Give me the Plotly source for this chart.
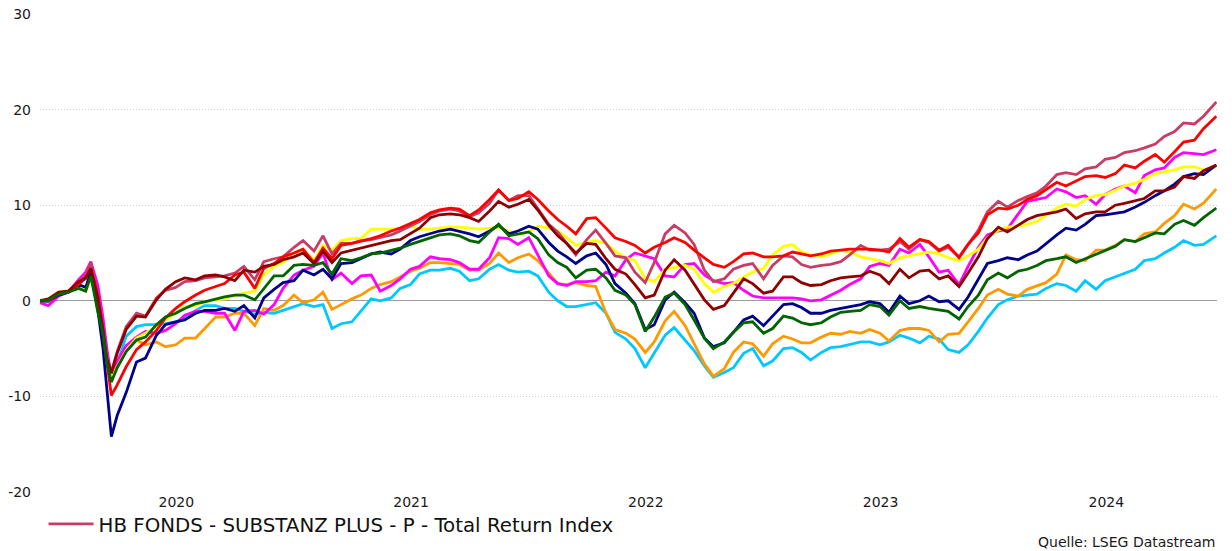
import pandas as pd
import plotly.graph_objects as go

# ---- dates (irregular around the 2020 crash, then semi-monthly) ----
dates_early = ["2019-12-03", "2019-12-16", "2020-01-01", "2020-01-16", "2020-02-01",
               "2020-02-12", "2020-02-20", "2020-03-02", "2020-03-10", "2020-03-16",
               "2020-03-23", "2020-04-01", "2020-04-15"]
dates_regular = pd.date_range("2020-05-01", "2024-11-15", freq="SMS").strftime("%Y-%m-%d").tolist()
dates = dates_early + dates_regular + ["2024-12-05"]

# ---- series values (% change) ----
hb_fonds = [0.0, 0.1, 0.8, 1.0, 2.0, 2.6, 4.0, 0.7, -3.0, -6.0, -7.4, -5.3, -2.7,
            -1.3, -1.6, 0.3, 1.1, 1.4, 2.0, 2.1, 2.4, 2.5, 2.6, 2.9, 3.6, 2.2, 4.1, 4.4, 4.6,
            5.6, 6.3, 5.2, 6.8, 4.9, 6.0, 6.0, 6.3, 6.4, 6.6, 6.9, 7.3, 7.8, 8.3, 9.0, 9.4, 9.6, 9.4, 8.8, 9.2, 10.2, 11.6, 10.5, 11.0,
            11.0, 9.6, 8.0, 7.2, 6.0, 4.8, 6.4, 7.4, 6.0, 4.7, 4.5, 3.0, 1.9, 4.0, 7.0, 7.9, 7.1, 5.9, 3.2, 2.0, 2.3, 3.3, 3.7, 3.9,
            2.3, 3.7, 4.7, 4.6, 3.8, 3.5, 3.7, 3.8, 4.1, 4.8, 5.8, 5.3, 5.3, 5.4, 6.2, 5.4, 6.4, 6.1, 5.2, 5.6, 4.6, 5.9, 7.4, 9.3,
            10.4, 9.8, 10.5, 10.9, 11.3, 12.0, 13.2, 13.4, 13.2, 13.8, 14.0, 14.8, 15.0, 15.5, 15.7, 16.0, 16.4, 17.2, 17.7, 18.6, 18.5, 19.3, 20.8]

red = [0.0, 0.0, 0.7, 0.9, 1.7, 2.4, 3.4, 0.5, -3.5, -6.5, -9.9, -8.8, -6.9,
       -5.1, -4.3, -3.1, -1.8, -0.8, -0.1, 0.6, 1.1, 1.5, 1.8, 2.7, 3.0, 1.3, 3.4, 3.9, 4.6,
       5.0, 5.4, 4.0, 5.5, 4.4, 5.8, 6.0, 6.2, 6.5, 6.8, 7.3, 7.6, 8.1, 8.5, 9.2, 9.5, 9.7, 9.6, 8.9, 9.5, 10.6, 11.6, 10.5, 10.7,
       11.4, 10.6, 9.4, 8.5, 7.8, 7.0, 8.6, 8.7, 7.6, 6.6, 6.2, 5.8, 5.0, 5.6, 6.1, 6.6, 6.1, 5.3, 4.5, 3.8, 3.5, 4.1, 4.9, 5.0,
       4.6, 4.6, 4.7, 5.1, 4.9, 4.7, 4.9, 5.2, 5.3, 5.4, 5.4, 5.4, 5.3, 5.1, 6.5, 5.6, 6.4, 6.2, 5.3, 5.8, 4.5, 5.9, 7.1, 9.0,
       9.7, 9.6, 10.0, 10.6, 11.0, 11.6, 12.4, 12.0, 12.5, 13.0, 13.1, 12.9, 13.3, 14.2, 13.9, 14.6, 15.3, 14.5, 15.6, 16.6, 16.8, 18.0, 19.3]

yellow = [0.0, 0.2, 0.9, 1.1, 1.7, 1.0, 2.3, -0.2, -3.2, -6.0, -8.0, -6.9, -5.2,
          -3.9, -3.4, -2.7, -2.0, -1.3, -0.6, -0.5, -0.1, 0.1, 0.2, 0.6, 0.8, 1.0, 2.7, 3.6, 4.0,
          5.0, 5.4, 4.2, 5.8, 5.3, 6.3, 6.5, 6.5, 7.5, 7.5, 7.5, 7.6, 7.8, 7.5, 7.5, 7.6, 7.7, 7.7, 7.6, 7.5, 7.6, 7.7, 7.3, 6.9,
          7.2, 7.8, 7.6, 7.3, 6.6, 5.8, 6.1, 6.3, 6.0, 5.2, 4.5, 4.2, 2.3, 2.0, 3.3, 3.5, 3.7, 3.3, 1.8, 0.9, 1.5, 1.8, 2.5, 3.0,
          3.4, 4.8, 5.7, 5.9, 5.1, 4.8, 4.6, 4.9, 5.3, 5.1, 4.6, 4.4, 4.2, 3.9, 4.5, 4.7, 4.9, 5.1, 4.9, 4.5, 4.2, 4.7, 5.4, 6.6,
          7.4, 7.7, 7.8, 8.0, 8.3, 8.9, 9.7, 10.1, 9.9, 10.6, 11.0, 11.1, 11.6, 12.0, 12.3, 12.7, 13.3, 13.5, 13.7, 14.0, 14.0, 13.7, 14.0]

dark_red = [0.0, 0.2, 0.9, 1.0, 2.0, 2.4, 3.4, 0.3, -3.0, -6.0, -7.6, -5.5, -3.0,
            -1.6, -1.7, 0.1, 1.2, 2.0, 2.4, 2.2, 2.6, 2.7, 2.5, 2.1, 3.2, 3.0, 3.6, 3.8, 4.3,
            4.6, 5.0, 3.9, 5.2, 4.0, 5.0, 5.3, 5.5, 5.8, 6.0, 6.3, 6.4, 7.0, 7.6, 8.7, 9.0, 9.1, 9.0, 8.7, 8.3, 9.4, 10.4, 9.8, 10.1,
            10.6, 9.5, 7.9, 6.8, 6.0, 5.0, 6.0, 5.9, 4.4, 3.3, 2.8, 1.7, 0.3, 0.6, 3.2, 4.3, 3.2, 1.7, 0.1, -0.9, -0.5, 0.8, 2.3, 1.8,
            0.8, 1.0, 2.5, 2.5, 1.9, 1.6, 1.7, 2.1, 2.4, 2.5, 2.6, 3.1, 2.7, 1.8, 3.3, 2.4, 3.1, 3.2, 2.3, 2.6, 1.5, 2.9, 4.6, 6.5,
            7.7, 7.2, 7.9, 8.5, 8.9, 9.1, 9.3, 9.6, 8.6, 9.1, 9.3, 9.3, 10.0, 10.2, 10.5, 10.7, 11.5, 11.5, 11.9, 13.0, 12.8, 13.6, 14.2]

magenta = [-0.2, -0.5, 0.5, 0.9, 2.2, 3.0, 4.1, 1.6, -1.8, -5.0, -8.0, -6.3, -4.7,
           -3.8, -3.2, -3.4, -3.1, -2.4, -1.5, -1.1, -1.1, -1.3, -1.3, -3.1, -1.1, -1.0, -1.4, -0.4, 1.3,
           2.7, 3.2, 3.6, 5.0, 2.2, 2.9, 1.8, 2.6, 2.7, 1.0, 1.6, 2.3, 3.3, 3.6, 4.6, 4.4, 4.3, 4.0, 3.3, 3.3, 4.5, 6.6, 6.5, 5.9,
           6.6, 4.8, 2.6, 1.8, 1.6, 2.0, 2.0, 2.1, 3.0, 2.6, 4.3, 5.0, 4.7, 4.4, 2.6, 2.5, 3.8, 3.9, 2.7, 2.1, 1.8, 1.9, 1.1, 0.5,
           0.3, 0.3, 0.3, 0.3, 0.2, 0.0, 0.1, 0.6, 1.1, 1.7, 2.3, 3.6, 3.9, 3.7, 5.4, 5.0, 5.9, 4.6, 3.0, 3.2, 1.7, 3.6, 5.6, 6.9,
           7.3, 7.5, 9.1, 10.4, 10.6, 10.8, 11.7, 11.4, 10.8, 11.0, 10.1, 11.1, 11.7, 12.0, 11.3, 13.1, 13.7, 13.9, 15.0, 15.5, 15.4, 15.3, 15.8]

navy = [0.0, 0.0, 0.6, 0.9, 1.7, 1.4, 3.0, -1.0, -5.0, -9.5, -14.2, -12.0, -9.6,
        -6.4, -6.0, -3.6, -2.5, -2.2, -2.0, -1.3, -1.0, -1.0, -0.8, -1.1, -0.5, -1.8, 0.3, 1.2, 1.9,
        2.1, 3.2, 2.7, 3.3, 2.3, 3.9, 4.0, 4.4, 4.9, 5.1, 4.9, 5.4, 6.3, 6.7, 7.0, 7.3, 7.5, 7.3, 7.0, 6.7, 7.3, 7.9, 7.0, 7.3,
        7.8, 7.5, 6.1, 5.2, 4.6, 3.9, 4.7, 5.0, 3.8, 1.8, 0.8, -0.3, -3.0, -2.5, 0.1, 0.9, -0.2, -1.3, -3.9, -4.8, -4.4, -3.3, -2.0, -1.6,
        -2.6, -1.6, -0.4, -0.3, -0.7, -1.3, -1.3, -1.0, -0.8, -0.6, -0.4, -0.1, -0.3, -1.2, 0.5, -0.3, 0.0, 0.5, -0.1, 0.0, -0.9, 0.4, 2.2, 3.9,
        4.2, 4.5, 4.3, 4.8, 5.2, 6.0, 6.9, 7.6, 7.4, 8.0, 8.9, 9.0, 9.2, 9.3, 9.8, 10.3, 11.0, 11.5, 12.2, 13.0, 13.3, 13.2, 14.2]

green = [0.0, 0.1, 0.7, 0.9, 1.3, 1.0, 2.6, -1.2, -3.5, -6.5, -8.5, -7.0, -5.3,
         -4.1, -3.8, -2.5, -1.7, -1.3, -0.8, -0.3, -0.1, 0.2, 0.4, 0.6, 0.6, 0.1, 1.3, 2.6, 2.6,
         3.7, 3.8, 3.7, 4.0, 2.8, 4.4, 4.2, 4.5, 4.9, 5.0, 5.3, 5.5, 5.9, 6.2, 6.6, 6.9, 7.0, 6.8, 6.3, 6.1, 7.2, 8.0, 6.8, 7.0,
         7.2, 6.5, 4.8, 4.0, 3.5, 2.4, 3.2, 3.3, 2.4, 1.1, 0.6, -0.4, -3.2, -1.7, 0.4, 0.8, -0.4, -2.0, -3.9, -5.0, -4.3, -3.3, -2.3, -2.2,
         -3.4, -2.9, -1.6, -1.8, -2.3, -2.5, -2.3, -1.7, -1.2, -1.1, -1.0, -0.4, -0.6, -1.5, 0.0, -0.8, -0.6, -0.8, -1.0, -1.1, -1.9, -0.6, 0.6, 2.2,
         2.9, 2.4, 3.1, 3.3, 3.7, 4.2, 4.4, 4.6, 4.0, 4.4, 4.8, 5.2, 5.7, 6.4, 6.2, 6.6, 7.1, 7.0, 8.0, 8.4, 7.9, 8.7, 9.7]

orange = [0.0, 0.1, 0.8, 1.0, 1.8, 2.6, 3.7, 0.9, -2.5, -5.5, -8.0, -6.9, -5.2,
          -4.1, -4.6, -4.3, -4.8, -4.6, -3.9, -3.9, -2.9, -1.7, -1.7, -1.3, -1.3, -2.6, -0.8, -1.0, -0.5,
          0.6, -0.2, 0.1, 0.9, -0.9, -0.4, 0.2, 0.6, 1.3, 1.7, 2.0, 2.5, 3.1, 3.4, 4.0, 4.0, 3.9, 3.8, 3.2, 3.2, 3.9, 5.0, 4.0, 4.5,
          4.9, 4.2, 2.9, 1.8, 1.7, 1.9, 1.6, 1.5, -1.3, -3.0, -3.4, -4.0, -5.4, -4.3, -2.1, -1.1, -2.6, -4.5, -6.6, -7.9, -7.1, -5.4, -4.3, -4.5,
          -5.8, -4.5, -3.7, -4.0, -4.4, -4.4, -3.8, -3.4, -3.5, -3.2, -3.4, -3.0, -3.4, -4.2, -3.1, -2.9, -2.9, -3.1, -4.3, -3.5, -3.4, -2.2, -0.8, 0.6,
          1.2, 0.7, 0.5, 1.2, 1.6, 1.9, 2.8, 4.8, 4.3, 4.2, 5.3, 5.3, 5.8, 6.4, 6.2, 7.0, 7.2, 8.1, 8.9, 10.1, 9.6, 10.2, 11.7]

cyan = [-0.1, -0.1, 0.6, 1.0, 1.8, 2.3, 3.2, 0.2, -3.0, -6.0, -8.0, -6.6, -3.7,
        -2.7, -2.5, -2.5, -2.4, -2.2, -1.8, -1.0, -0.5, -0.5, -0.8, -0.8, -1.1, -1.4, -1.2, -1.3, -1.0,
        -0.6, -0.3, -0.6, -0.4, -2.9, -2.4, -2.2, -1.1, 0.2, 0.0, 0.3, 1.3, 1.7, 2.8, 3.2, 3.2, 3.4, 3.1, 2.1, 2.3, 3.3, 3.8, 3.2, 3.0,
        3.1, 2.6, 0.9, 0.0, -0.6, -0.6, -0.4, -0.2, -1.3, -3.3, -4.0, -5.0, -7.0, -5.5, -3.6, -2.8, -4.1, -5.2, -6.8, -8.0, -7.5, -7.0, -5.5, -5.0,
        -6.8, -6.3, -5.0, -4.9, -5.4, -6.2, -5.4, -4.9, -4.8, -4.6, -4.3, -4.3, -4.6, -4.3, -3.6, -3.9, -4.4, -3.7, -4.0, -5.1, -5.4, -4.6, -3.2, -1.8,
        -0.4, 0.1, 0.5, 0.6, 0.7, 1.3, 1.8, 1.6, 1.0, 2.1, 1.2, 2.1, 2.5, 2.8, 3.3, 4.2, 4.4, 5.0, 5.6, 6.3, 5.8, 5.9, 6.8]

# ---- axis labels ----
x_tick_dates = ["2020-07-02", "2021-07-02", "2022-07-02", "2023-07-02", "2024-06-17"]
x_tick_labels = ["2020", "2021", "2022", "2023", "2024"]
y_tick_vals = [-20, -10, 0, 10, 20, 30]
y_tick_labels = ["-20", "-10", "0", "10", "20", "30"]

legend_name = "HB FONDS - SUBSTANZ PLUS - P - Total Return Index"
source_text = "Quelle: LSEG Datastream"

series = [
    ("Vergleich 1", cyan, "#00C8FF", False),
    ("Vergleich 2", orange, "#FF9900", False),
    ("Vergleich 3", magenta, "#FF00FF", False),
    ("Vergleich 4", yellow, "#FFFF00", False),
    ("Vergleich 5", navy, "#00008B", False),
    (legend_name, hb_fonds, "#C93C66", True),
    ("Vergleich 6", red, "#FF0000", False),
    ("Vergleich 7", dark_red, "#8E0000", False),
    ("Vergleich 8", green, "#006400", False),
]

fig = go.Figure()
for name, vals, color, show in series:
    fig.add_trace(go.Scatter(x=dates, y=vals, mode="lines", name=name,
                             line=dict(color=color, width=2.8),
                             showlegend=show))

font_family = "DejaVu Sans"
fig.update_layout(
    width=1232, height=551,
    margin=dict(l=40, r=15, t=14, b=59, autoexpand=False),
    plot_bgcolor="white", paper_bgcolor="white",
    font=dict(family=font_family, size=14, color="#1a1a1a"),
    xaxis=dict(type="date", range=["2019-12-03", "2024-12-06"],
               tickmode="array", tickvals=x_tick_dates, ticktext=x_tick_labels,
               showgrid=False, zeroline=False, showline=False, ticks=""),
    yaxis=dict(range=[-20, 30], tickmode="array", tickvals=y_tick_vals, ticktext=y_tick_labels,
               showgrid=True, gridcolor="#cfcfcf", griddash="1px,2px", gridwidth=1,
               zeroline=True, zerolinecolor="#9c9c9c", zerolinewidth=1,
               showline=False, ticks="", ticklabelstandoff=8),
    legend=dict(x=0.003, xanchor="left", y=-0.067, yanchor="middle",
                orientation="h", itemwidth=45, font=dict(size=19.8, color="#111111"),
                bgcolor="rgba(0,0,0,0)", borderwidth=0),
    annotations=[dict(text=source_text, xref="paper", yref="paper", x=1.0, y=-0.105,
                      xanchor="right", yanchor="middle", showarrow=False,
                      font=dict(size=14, color="#1a1a1a"))],
)

fig.write_html("out.html", config={"displayModeBar": False},
               post_script="document.body.style.margin='0';")
